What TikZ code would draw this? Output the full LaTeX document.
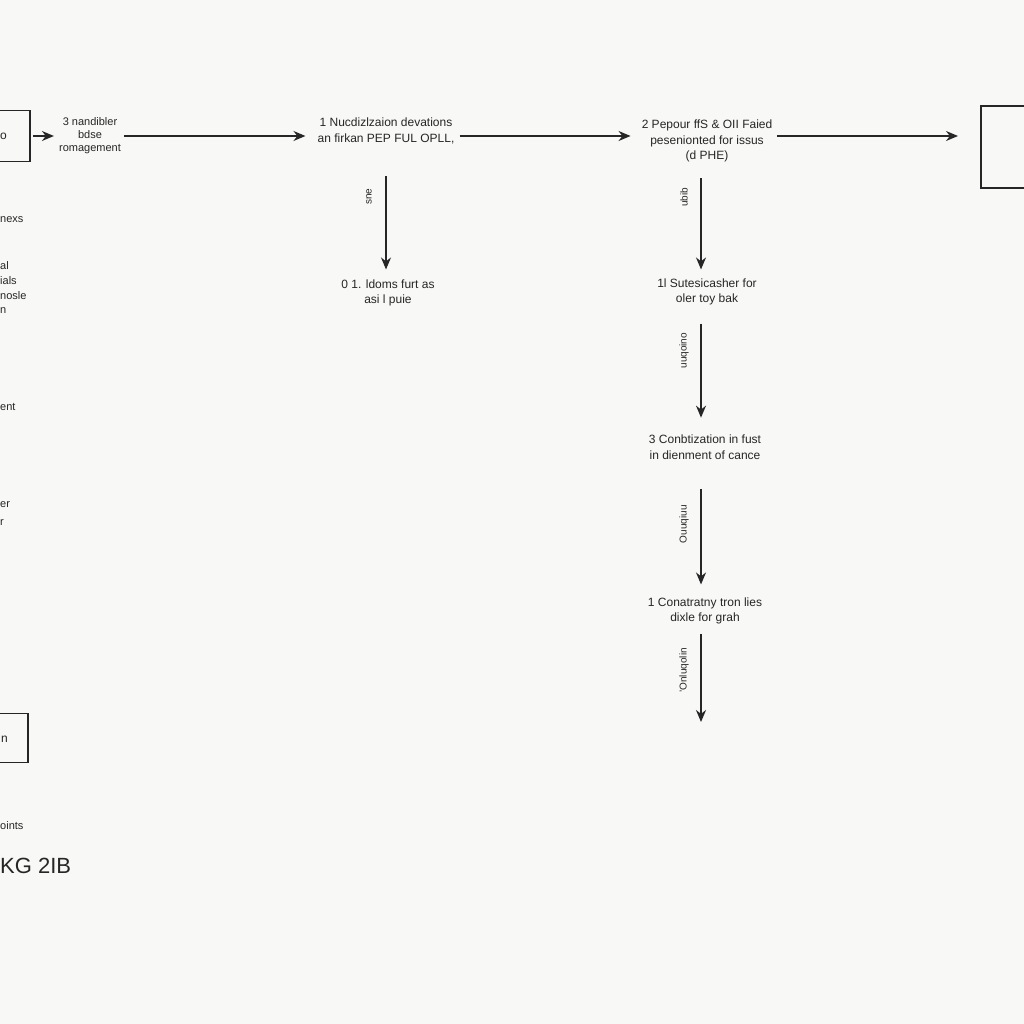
\documentclass[tikz,border=0pt]{standalone}
\usepackage{fontspec}
\setmainfont{Liberation Sans}
\usetikzlibrary{arrows.meta}
\definecolor{bg}{HTML}{F8F8F6}
\definecolor{ink}{HTML}{262626}
\tikzset{
  txt/.style={font=\fontsize{12}{15.5}\selectfont, text=ink, align=center, inner sep=0pt},
  frag/.style={font=\fontsize{11}{13}\selectfont, text=ink, inner sep=0pt, anchor=west},
  vlab/.style={font=\fontsize{10}{11}\selectfont, text=ink, rotate=90, inner sep=0pt, anchor=center},
  box/.style={draw=ink, line width=1.8pt, inner sep=0pt},
  arr/.style={draw=ink, line width=1.5pt, -{Stealth[length=12pt,width=10pt]}},
}
\begin{document}
\begin{tikzpicture}[x=1pt,y=-1pt]
\fill[bg] (0,0) rectangle (1024,1024);
\useasboundingbox (0,0) rectangle (1024,1024);

% boxes cut at the page edges
\node[box, minimum width=60pt, minimum height=51pt] (lbox) at (0,136) {};
\node[txt, anchor=west] (lboxt) at (0,136) {o};
\node[box, minimum width=80pt, minimum height=82pt, anchor=north west] (rbox) at (980,105) {};
\node[box, minimum width=56pt, minimum height=49pt] (lbox2) at (0,738) {};
\node[txt, anchor=west] (lbox2t) at (1,739) {n};

\coordinate (row) at (0,136);
\coordinate (col) at (701,0);

% top row
\node[txt, font=\fontsize{11}{13}\selectfont] (t3) at (90,136) {3 nandibler\\bdse\\romagement};
\node[txt] (t1) at (386,131) {1 Nucdizlzaion devations\\an firkan PEP FUL OPLL,};
\node[txt] (t2) at (707,141) {2 Pepour ffS \& OII Faied\\pesenionted for issus\\(d PHE)};

\draw[arr, shorten <=2pt, shorten >=5pt] (lbox.east |- row) -- (t3.west |- row);
\draw[arr, shorten <=3pt, shorten >=12pt] (t3.east |- row) -- (t1.west |- row);
\draw[arr, shorten <=5pt, shorten >=11pt] (t1.east |- row) -- (t2.west |- row);
\draw[arr, shorten <=5pt, shorten >=22pt] (t2.east |- row) -- (rbox.west |- row);

% first column
\node[txt] (t1b) at (388,293) {0 1. ldoms furt as\\asi l puie};
\draw[arr, shorten <=32pt, shorten >=10pt] (t1.south) -- (t1.south |- t1b.north)
  node[xshift=-17pt, vlab, pos=0.39] (l1) {sne};

% second column
\node[txt] (t2b) at (707,292) {1l Sutesicasher for\\oler toy bak};
\node[txt] (t2c) at (705,447) {3 Conbtization in fust\\in dienment of cance};
\node[txt] (t2d) at (705,611) {1 Conatratny tron lies\\dixle for grah};
\coordinate (tail) at (701,722);

\draw[arr, shorten <=16pt, shorten >=9pt] (t2.south -| col) -- (t2b.north -| col)
  node[xshift=-17pt, vlab, pos=0.3] (l2) {ubib};
\draw[arr, shorten <=18pt, shorten >=17pt] (t2b.south -| col) -- (t2c.north -| col)
  node[xshift=-17pt, vlab, pos=0.35] (l3) {uuqoino};
\draw[arr, shorten <=30pt, shorten >=13pt] (t2c.south -| col) -- (t2d.north -| col)
  node[xshift=-17pt, vlab, pos=0.47] (l4) {Ouuqiuu};
\draw[arr, shorten <=9pt] (t2d.south -| col) -- (tail)
  node[xshift=-17pt, vlab, pos=0.47] (l5) {'Onluqolin};

% fragments at the left edge
\node[frag] (f1) at (0,220) {nexs};
\node[frag] (f2) at (0,266) {al};
\node[frag] (f3) at (0,281) {ials};
\node[frag] (f4) at (0,296) {nosle};
\node[frag] (f5) at (0,311) {n};
\node[frag] (f6) at (0,407) {ent};
\node[frag] (f7) at (0,505) {er};
\node[frag] (f8) at (0,523) {r};
\node[frag] (f9) at (0,826) {oints};
\node[font=\fontsize{22}{24}\selectfont, text=ink, inner sep=0pt, anchor=west] (kg) at (0,866) {KG 2IB};
\end{tikzpicture}
\end{document}
